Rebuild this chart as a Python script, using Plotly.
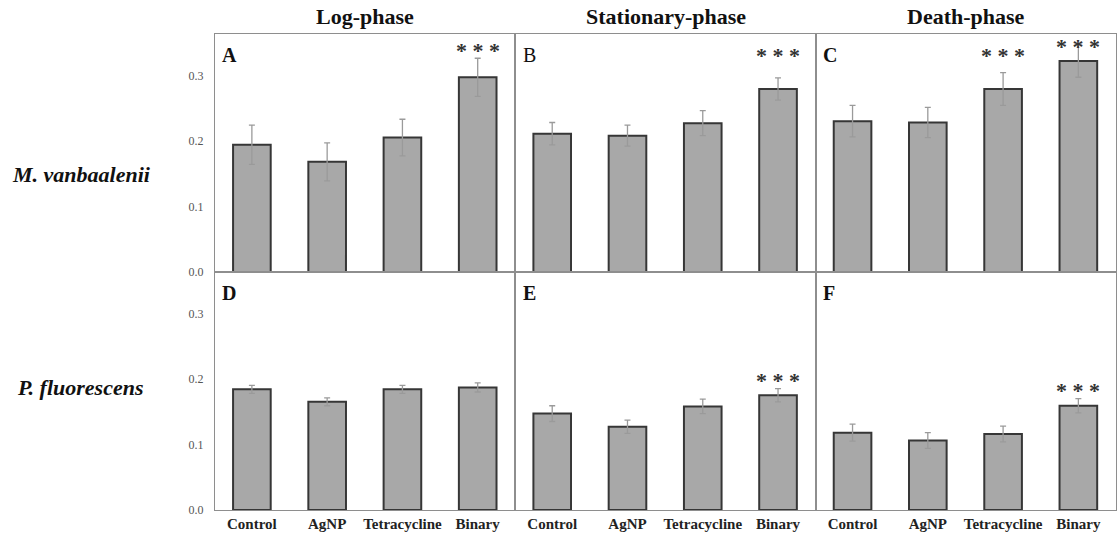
import plotly.graph_objects as go
from plotly.subplots import make_subplots

# Treatments shown in every panel
categories = ["Control", "AgNP", "Tetracycline", "Binary"]

phases = ["Log-phase", "Stationary-phase", "Death-phase"]
species = ["M. vanbaalenii", "P. fluorescens"]
panel_letters = ["A", "B", "C", "D", "E", "F"]

# Mean values per panel (rows: species, columns: growth phase)
vals_A = [0.194, 0.168, 0.205, 0.297]
vals_B = [0.211, 0.208, 0.227, 0.279]
vals_C = [0.230, 0.228, 0.279, 0.322]
vals_D = [0.184, 0.165, 0.184, 0.187]
vals_E = [0.147, 0.127, 0.158, 0.175]
vals_F = [0.118, 0.106, 0.116, 0.159]

# Standard errors
err_A = [0.030, 0.029, 0.028, 0.029]
err_B = [0.017, 0.016, 0.019, 0.017]
err_C = [0.024, 0.023, 0.025, 0.025]
err_D = [0.006, 0.006, 0.006, 0.007]
err_E = [0.012, 0.010, 0.011, 0.010]
err_F = [0.013, 0.012, 0.012, 0.011]

# Significance (***) flags
sig_A = [False, False, False, True]
sig_B = [False, False, False, True]
sig_C = [False, False, True, True]
sig_D = [False, False, False, False]
sig_E = [False, False, False, True]
sig_F = [False, False, False, True]

y_ticks = [0.0, 0.1, 0.2, 0.3]
y_tick_labels = ["0.0", "0.1", "0.2", "0.3"]

panels = [
    (vals_A, err_A, sig_A), (vals_B, err_B, sig_B), (vals_C, err_C, sig_C),
    (vals_D, err_D, sig_D), (vals_E, err_E, sig_E), (vals_F, err_F, sig_F),
]

SERIF = "Times New Roman, Liberation Serif, DejaVu Serif, serif"
FRAME = "#8e8e8e"

fig = make_subplots(rows=2, cols=3, horizontal_spacing=0, vertical_spacing=0,
                    shared_yaxes=False)

YMAX = 0.363

for i, (vals, errs, sigs) in enumerate(panels):
    row, col = i // 3 + 1, i % 3 + 1
    fig.add_trace(go.Bar(
        x=categories, y=vals, width=0.5,
        marker=dict(color="#a8a8a8", line=dict(color="#363636", width=2)),
        error_y=dict(type="data", array=errs, color="#9a9a9a",
                     thickness=1.3, width=3),
        showlegend=False,
    ), row=row, col=col)

    axn = "" if i == 0 else str(i + 1)
    # significance stars
    for c, v, e, s in zip(categories, vals, errs, sigs):
        if not s:
            continue
        y = v + e + 0.02
        if row == 1:
            y = min(max(y, 0.338), 0.352)
        fig.add_annotation(x=c, y=y, xref="x" + axn, yref="y" + axn,
                           text="<b>* * *</b>", showarrow=False,
                           font=dict(family=SERIF, size=22, color="#333"),
                           xanchor="center", yanchor="middle", yshift=-5)
    # panel letter
    fig.add_annotation(x=0.018, y=0.91, xref="x" + axn + " domain",
                       yref="y" + axn + " domain",
                       text=panel_letters[i] if panel_letters[i] == "B"
                       else "<b>" + panel_letters[i] + "</b>",
                       showarrow=False, xanchor="left", yanchor="middle",
                       font=dict(family=SERIF, size=20, color="#111"))

for r in (1, 2):
    for c in (1, 2, 3):
        fig.update_xaxes(
            row=r, col=c, range=[-0.49, 3.5], showline=True, mirror=True,
            linecolor=FRAME, linewidth=1, ticks="", showgrid=False,
            showticklabels=(r == 2),
            tickfont=dict(family=SERIF, size=15, color="#222", weight="bold"),
        )
        fig.update_yaxes(
            row=r, col=c, range=[0, YMAX], showline=True, mirror=True,
            linecolor=FRAME, linewidth=1, ticks="", showgrid=False,
            zeroline=False, tickvals=y_ticks, ticktext=y_tick_labels,
            showticklabels=(c == 1), ticklabelstandoff=8,
            tickfont=dict(family=SERIF, size=12, color="#555"),
        )

# column titles
for j, title in enumerate(phases):
    fig.add_annotation(x=(j + 0.5) / 3, y=1.036, xref="paper", yref="paper",
                       text="<b>" + title + "</b>", showarrow=False,
                       xanchor="center", yanchor="middle",
                       font=dict(family=SERIF, size=22, color="#111"))

# row labels
for k, (name, yp) in enumerate(zip(species, [0.704, 0.258])):
    fig.add_annotation(x=-0.228 if k == 0 else -0.222, y=yp, xref="paper", yref="paper",
                       text="<b><i>" + name + "</i></b>", showarrow=False,
                       xanchor="left", yanchor="middle",
                       font=dict(family=SERIF, size=22, color="#111"))

fig.update_layout(
    width=1117, height=538,
    margin=dict(l=215, r=1, t=34, b=28),
    plot_bgcolor="white", paper_bgcolor="white",
    font=dict(family=SERIF),
)

fig.write_html("out.html")
